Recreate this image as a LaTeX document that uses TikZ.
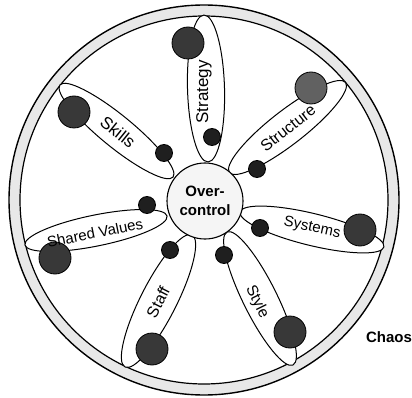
\documentclass[tikz,border=0pt]{standalone}
\usepackage{fontspec}
\setmainfont{Liberation Sans}
\usetikzlibrary{shapes.geometric}
\begin{document}
\begin{tikzpicture}[x=1pt,y=-1pt,
  petal/.style={draw, ellipse, fill=white, line width=1pt, inner sep=0pt, minimum height=34pt},
  bigball/.style={draw, circle, fill=black!78, line width=0.8pt, inner sep=0pt, minimum size=32pt},
  smallball/.style={draw, circle, fill=black!88, line width=0.8pt, inner sep=0pt, minimum size=17pt},
  lab/.style={inner sep=0pt},
]
\useasboundingbox (0,0) rectangle (412,398);
\coordinate (c) at (204,200);
\fill[black!9, even odd rule] (c) circle [radius=195] (c) circle [radius=184];
\draw[line width=1.4pt] (c) circle [radius=195];
\draw[line width=1.2pt] (c) circle [radius=184];
% petals
\node[petal, minimum width=147pt, minimum height=37pt, rotate=91.6] (pStrategy) at (206,88.5) {};
\node[petal, minimum width=147pt, rotate=37.8] (pStructure) at (287.5,127.5) {};
\node[petal, minimum width=148pt, minimum height=32pt, rotate=-13.7] (pSystems) at (312,229.5) {};
\node[petal, minimum width=148.5pt, rotate=-63.6] (pStyle) at (260,298.5) {};
\node[petal, minimum width=148pt, minimum height=36pt, rotate=63.1] (pStaff) at (158.5,301) {};
\node[petal, minimum width=145pt, minimum height=31pt, rotate=11.5] (pShared) at (96,230.5) {};
\node[petal, minimum width=146pt, minimum height=32pt, rotate=-39.2] (pSkills) at (116.5,131) {};
% centre
\node[draw, circle, fill=black!4, line width=1.1pt, minimum size=76pt, inner sep=0pt,
      align=center, font=\bfseries\fontsize{15}{18.5}\selectfont] (oc) at (205,201) {Over-\\control};
% big balls
\node[bigball] (bStrategy) at (188,43) {};
\node[bigball, fill=black!62] (bStructure) at (311,88) {};
\node[bigball] (bSystems) at (360,230) {};
\node[bigball] (bStyle) at (290,332) {};
\node[bigball] (bStaff) at (152,349) {};
\node[bigball] (bShared) at (55,258) {};
\node[bigball] (bSkills) at (74,112) {};
% small balls
\node[smallball] (sStrategy) at (212,137) {};
\node[smallball] (sStructure) at (257,169) {};
\node[smallball] (sSystems) at (260,228) {};
\node[smallball] (sStyle) at (224,255) {};
\node[smallball] (sStaff) at (170,250) {};
\node[smallball] (sShared) at (147,205) {};
\node[smallball] (sSkills) at (164,153) {};
% labels
\node[lab, rotate=90, font=\fontsize{17}{19}\selectfont] (lStrategy) at (204,92) {Strategy};
\node[lab, rotate=38, font=\fontsize{16}{18}\selectfont] (lStructure) at (288,128) {Structure};
\node[lab, rotate=-12, font=\fontsize{15}{17}\selectfont] (lSystems) at (312,228) {Systems};
\node[lab, rotate=-63.6, font=\fontsize{15.5}{17}\selectfont] (lStyle) at (257,302) {Style};
\node[lab, rotate=63, font=\fontsize{16}{18}\selectfont] (lStaff) at (158,302) {Staff};
\node[lab, rotate=11.5, font=\fontsize{15}{17}\selectfont] (lShared) at (95,233) {Shared Values};
\node[lab, rotate=-39, font=\fontsize{17}{19}\selectfont] (lSkills) at (118,132) {Skills};
\node[font=\bfseries\fontsize{15}{17}\selectfont, inner sep=0pt] (chaos) at (389,337) {Chaos};
\end{tikzpicture}
\end{document}
